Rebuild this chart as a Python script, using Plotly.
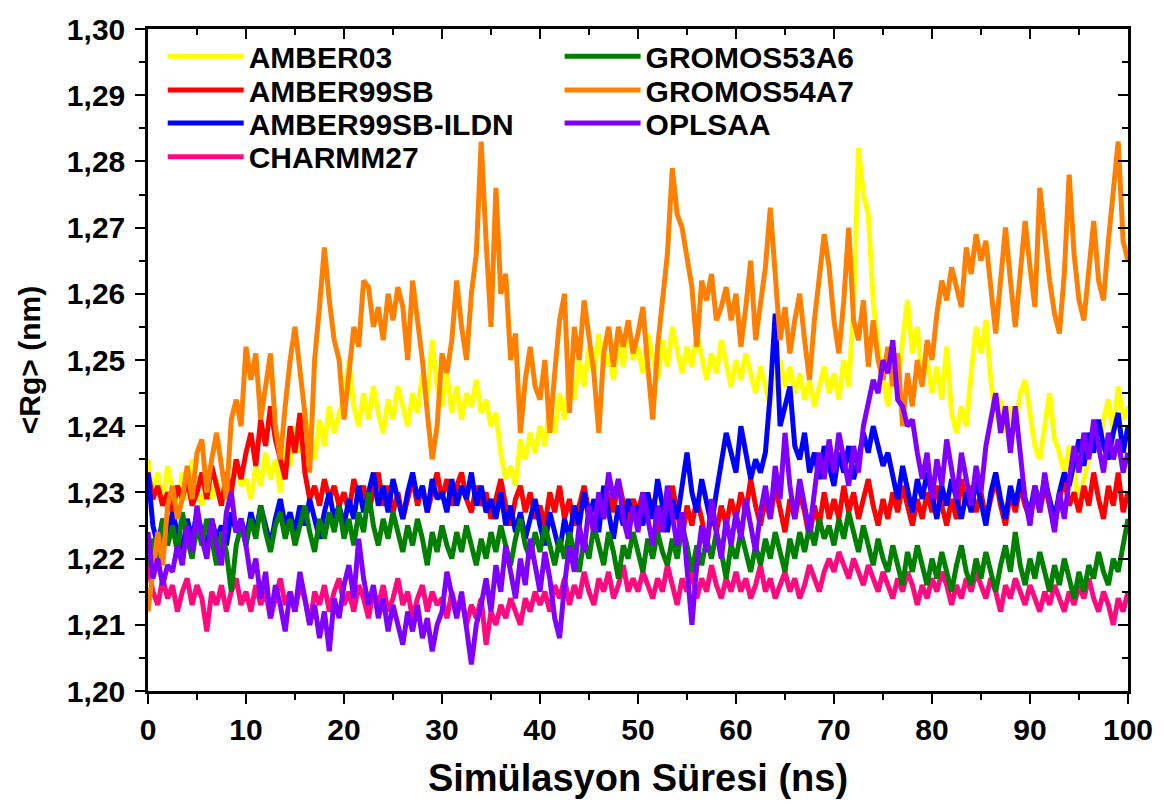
import plotly.graph_objects as go

time_ns = [i * 0.5 for i in range(201)]

amber03 = [
 1.235,1.229,1.233,1.228,1.234,1.230,1.227,1.233,1.229,1.235,1.230,1.228,1.234,1.229,1.232,1.228,1.233,1.230,1.235,1.231,
 1.232,1.229,1.234,1.231,1.236,1.232,1.235,1.230,1.237,1.234,1.240,1.236,1.242,1.238,1.235,1.241,1.237,1.243,1.239,1.242,
 1.244,1.250,1.243,1.240,1.245,1.241,1.246,1.242,1.239,1.244,1.241,1.246,1.243,1.240,1.245,1.242,1.248,1.244,1.253,1.246,
 1.243,1.248,1.242,1.246,1.241,1.245,1.243,1.247,1.242,1.244,1.240,1.242,1.236,1.232,1.234,1.231,1.238,1.235,1.239,1.236,
 1.240,1.237,1.243,1.239,1.245,1.241,1.247,1.244,1.250,1.246,1.252,1.248,1.254,1.249,1.251,1.247,1.253,1.249,1.255,1.250,
 1.252,1.248,1.254,1.250,1.247,1.253,1.249,1.255,1.251,1.248,1.252,1.249,1.254,1.250,1.247,1.251,1.248,1.253,1.249,1.246,
 1.250,1.247,1.251,1.248,1.245,1.249,1.246,1.243,1.247,1.250,1.246,1.249,1.245,1.248,1.244,1.247,1.243,1.246,1.249,1.245,
 1.248,1.244,1.250,1.246,1.258,1.282,1.275,1.272,1.259,1.252,1.247,1.243,1.249,1.246,1.253,1.259,1.251,1.255,1.247,1.250,
 1.245,1.249,1.244,1.252,1.242,1.239,1.243,1.240,1.248,1.255,1.251,1.256,1.247,1.241,1.244,1.239,1.243,1.240,1.245,1.247,
 1.242,1.237,1.235,1.240,1.245,1.238,1.236,1.233,1.237,1.234,1.227,1.232,1.235,1.238,1.236,1.241,1.244,1.239,1.246,1.241,
 1.243]

amber99sb = [
 1.233,1.229,1.231,1.228,1.230,1.227,1.231,1.229,1.232,1.228,1.230,1.233,1.229,1.234,1.231,1.228,1.233,1.230,1.235,1.232,
 1.236,1.239,1.234,1.241,1.237,1.243,1.238,1.235,1.232,1.240,1.236,1.242,1.233,1.229,1.231,1.228,1.232,1.229,1.231,1.228,
 1.230,1.227,1.232,1.229,1.231,1.227,1.230,1.233,1.228,1.231,1.227,1.230,1.226,1.229,1.232,1.228,1.231,1.227,1.230,1.233,
 1.229,1.232,1.228,1.231,1.233,1.229,1.227,1.231,1.228,1.230,1.226,1.229,1.232,1.228,1.225,1.229,1.231,1.227,1.230,1.226,
 1.228,1.225,1.230,1.227,1.231,1.226,1.229,1.225,1.228,1.231,1.227,1.224,1.229,1.226,1.230,1.227,1.232,1.228,1.225,1.229,
 1.227,1.230,1.226,1.229,1.224,1.228,1.225,1.231,1.227,1.223,1.228,1.225,1.229,1.226,1.222,1.227,1.224,1.228,1.225,1.229,
 1.226,1.230,1.227,1.232,1.228,1.225,1.229,1.226,1.231,1.227,1.224,1.229,1.226,1.230,1.227,1.223,1.228,1.225,1.230,1.226,
 1.229,1.226,1.231,1.227,1.230,1.226,1.229,1.232,1.228,1.225,1.229,1.226,1.230,1.227,1.231,1.228,1.225,1.229,1.226,1.230,
 1.227,1.231,1.228,1.225,1.229,1.226,1.232,1.228,1.231,1.227,1.230,1.226,1.229,1.232,1.228,1.225,1.230,1.227,1.231,1.228,
 1.226,1.230,1.227,1.231,1.228,1.225,1.229,1.232,1.228,1.230,1.227,1.231,1.228,1.233,1.229,1.226,1.231,1.228,1.233,1.227,
 1.230]

amber99sb_ildn = [
 1.233,1.225,1.222,1.226,1.223,1.227,1.224,1.221,1.226,1.223,1.227,1.224,1.222,1.226,1.223,1.225,1.222,1.227,1.224,1.226,
 1.223,1.227,1.224,1.228,1.225,1.222,1.226,1.229,1.225,1.227,1.224,1.228,1.225,1.229,1.226,1.223,1.227,1.230,1.226,1.228,
 1.225,1.229,1.226,1.231,1.227,1.230,1.233,1.228,1.231,1.227,1.232,1.229,1.226,1.230,1.233,1.229,1.231,1.227,1.232,1.229,
 1.230,1.227,1.232,1.228,1.231,1.229,1.233,1.228,1.231,1.227,1.229,1.226,1.230,1.225,1.228,1.224,1.227,1.223,1.226,1.229,
 1.225,1.222,1.227,1.224,1.221,1.226,1.223,1.228,1.225,1.230,1.226,1.229,1.224,1.231,1.227,1.223,1.228,1.225,1.229,1.226,
 1.228,1.225,1.230,1.226,1.232,1.228,1.224,1.229,1.226,1.231,1.236,1.230,1.227,1.232,1.228,1.225,1.230,1.234,1.239,1.236,
 1.233,1.240,1.236,1.232,1.235,1.233,1.236,1.245,1.257,1.240,1.243,1.246,1.237,1.235,1.239,1.233,1.236,1.232,1.237,1.234,
 1.231,1.236,1.233,1.237,1.232,1.235,1.239,1.236,1.240,1.237,1.234,1.236,1.232,1.229,1.234,1.230,1.227,1.232,1.229,1.233,
 1.229,1.226,1.231,1.228,1.232,1.229,1.226,1.230,1.227,1.232,1.228,1.225,1.230,1.233,1.229,1.226,1.231,1.228,1.232,1.229,
 1.227,1.231,1.228,1.232,1.229,1.226,1.230,1.233,1.231,1.235,1.238,1.234,1.239,1.236,1.241,1.237,1.235,1.239,1.242,1.236,
 1.240]

charmm27 = [
 1.219,1.215,1.213,1.217,1.214,1.216,1.212,1.215,1.217,1.213,1.216,1.214,1.209,1.215,1.213,1.216,1.212,1.215,1.217,1.213,
 1.215,1.212,1.216,1.213,1.215,1.211,1.214,1.217,1.213,1.215,1.212,1.216,1.214,1.210,1.215,1.213,1.216,1.212,1.215,1.217,
 1.213,1.215,1.212,1.216,1.214,1.211,1.215,1.213,1.216,1.212,1.214,1.217,1.213,1.215,1.211,1.214,1.216,1.212,1.215,1.213,
 1.214,1.211,1.215,1.212,1.214,1.210,1.213,1.211,1.214,1.207,1.212,1.210,1.213,1.211,1.214,1.212,1.210,1.214,1.212,1.215,
 1.213,1.215,1.212,1.216,1.214,1.217,1.213,1.216,1.214,1.218,1.215,1.213,1.217,1.215,1.218,1.214,1.216,1.219,1.215,1.217,
 1.215,1.218,1.216,1.214,1.217,1.215,1.219,1.216,1.213,1.217,1.215,1.218,1.214,1.217,1.215,1.219,1.216,1.214,1.217,1.215,
 1.218,1.215,1.217,1.214,1.216,1.219,1.215,1.217,1.214,1.216,1.218,1.215,1.217,1.214,1.216,1.219,1.217,1.215,1.218,1.220,
 1.218,1.221,1.219,1.217,1.220,1.218,1.216,1.219,1.217,1.215,1.218,1.216,1.214,1.217,1.215,1.218,1.216,1.213,1.216,1.214,
 1.217,1.215,1.218,1.216,1.213,1.216,1.214,1.217,1.215,1.218,1.216,1.214,1.217,1.215,1.212,1.216,1.214,1.217,1.215,1.213,
 1.216,1.214,1.212,1.215,1.213,1.216,1.214,1.212,1.215,1.213,1.216,1.214,1.217,1.214,1.212,1.215,1.213,1.210,1.214,1.212,
 1.215]

gromos53a6 = [
 1.219,1.223,1.220,1.226,1.222,1.225,1.221,1.227,1.223,1.220,1.225,1.222,1.226,1.223,1.219,1.224,1.221,1.215,1.222,1.225,
 1.222,1.226,1.223,1.228,1.224,1.221,1.225,1.227,1.223,1.226,1.222,1.225,1.228,1.224,1.221,1.226,1.223,1.227,1.224,1.228,
 1.223,1.226,1.222,1.227,1.224,1.230,1.225,1.222,1.226,1.223,1.227,1.224,1.221,1.225,1.222,1.226,1.223,1.219,1.224,1.221,
 1.225,1.222,1.220,1.224,1.221,1.225,1.222,1.219,1.223,1.220,1.224,1.221,1.225,1.222,1.219,1.223,1.226,1.222,1.220,1.224,
 1.221,1.225,1.222,1.219,1.223,1.220,1.224,1.221,1.218,1.223,1.220,1.225,1.222,1.219,1.224,1.221,1.217,1.222,1.220,1.224,
 1.221,1.218,1.223,1.220,1.224,1.221,1.219,1.223,1.220,1.225,1.222,1.218,1.222,1.219,1.223,1.220,1.224,1.221,1.217,1.222,
 1.220,1.224,1.221,1.218,1.222,1.219,1.223,1.220,1.224,1.221,1.218,1.223,1.220,1.224,1.221,1.225,1.222,1.226,1.223,1.225,
 1.222,1.226,1.223,1.227,1.224,1.221,1.225,1.222,1.219,1.223,1.220,1.218,1.222,1.219,1.216,1.221,1.218,1.222,1.219,1.216,
 1.220,1.217,1.221,1.218,1.215,1.219,1.222,1.218,1.216,1.220,1.217,1.221,1.218,1.215,1.219,1.222,1.218,1.224,1.219,1.216,
 1.220,1.217,1.221,1.218,1.215,1.219,1.216,1.220,1.217,1.214,1.218,1.215,1.219,1.217,1.221,1.218,1.216,1.220,1.218,1.222,
 1.226]

gromos54a7 = [
 1.212,1.218,1.224,1.219,1.228,1.231,1.226,1.229,1.234,1.229,1.236,1.238,1.230,1.235,1.239,1.234,1.229,1.241,1.244,1.240,
 1.252,1.247,1.251,1.241,1.246,1.251,1.240,1.235,1.243,1.250,1.255,1.249,1.242,1.233,1.250,1.258,1.267,1.259,1.253,1.250,
 1.241,1.248,1.255,1.252,1.262,1.261,1.255,1.258,1.253,1.260,1.256,1.261,1.258,1.250,1.262,1.256,1.250,1.242,1.235,1.240,
 1.251,1.248,1.253,1.262,1.255,1.250,1.260,1.266,1.283,1.268,1.255,1.276,1.260,1.263,1.250,1.254,1.239,1.247,1.252,1.246,
 1.244,1.250,1.239,1.248,1.256,1.260,1.242,1.255,1.250,1.259,1.253,1.248,1.239,1.251,1.255,1.249,1.255,1.252,1.256,1.251,
 1.254,1.258,1.249,1.241,1.252,1.260,1.266,1.279,1.272,1.270,1.265,1.261,1.252,1.262,1.259,1.263,1.256,1.258,1.261,1.256,
 1.260,1.252,1.258,1.265,1.253,1.258,1.264,1.273,1.262,1.253,1.258,1.251,1.256,1.260,1.253,1.247,1.256,1.262,1.269,1.264,
 1.256,1.251,1.259,1.270,1.256,1.253,1.259,1.249,1.256,1.250,1.247,1.252,1.246,1.251,1.240,1.248,1.243,1.250,1.246,1.253,
 1.250,1.257,1.262,1.259,1.264,1.261,1.258,1.267,1.263,1.269,1.265,1.268,1.260,1.254,1.262,1.270,1.262,1.255,1.263,1.271,
 1.264,1.258,1.276,1.268,1.262,1.257,1.254,1.263,1.278,1.266,1.259,1.256,1.263,1.271,1.262,1.259,1.268,1.275,1.283,1.268,
 1.265]

oplsaa = [
 1.224,1.217,1.220,1.216,1.219,1.218,1.222,1.219,1.225,1.221,1.228,1.223,1.220,1.226,1.222,1.219,1.227,1.230,1.224,1.226,
 1.222,1.217,1.220,1.214,1.218,1.211,1.216,1.213,1.209,1.215,1.212,1.218,1.214,1.210,1.213,1.208,1.212,1.206,1.214,1.211,
 1.216,1.219,1.214,1.223,1.217,1.213,1.216,1.211,1.214,1.209,1.213,1.210,1.207,1.212,1.209,1.213,1.208,1.211,1.206,1.210,
 1.212,1.218,1.214,1.211,1.215,1.209,1.204,1.210,1.213,1.217,1.212,1.219,1.215,1.222,1.218,1.214,1.220,1.216,1.223,1.219,
 1.215,1.221,1.217,1.211,1.208,1.216,1.222,1.218,1.225,1.221,1.228,1.224,1.230,1.226,1.233,1.229,1.232,1.226,1.223,1.228,
 1.224,1.230,1.226,1.222,1.228,1.224,1.231,1.226,1.222,1.227,1.218,1.210,1.219,1.225,1.221,1.229,1.224,1.220,1.226,1.222,
 1.227,1.223,1.229,1.225,1.221,1.227,1.231,1.226,1.234,1.229,1.239,1.231,1.226,1.232,1.228,1.224,1.230,1.236,1.232,1.238,
 1.233,1.239,1.235,1.231,1.237,1.233,1.240,1.244,1.247,1.245,1.250,1.248,1.253,1.244,1.243,1.240,1.241,1.236,1.232,1.236,
 1.229,1.235,1.231,1.238,1.233,1.229,1.236,1.232,1.228,1.234,1.230,1.237,1.241,1.245,1.239,1.243,1.236,1.243,1.236,1.229,
 1.225,1.231,1.227,1.233,1.228,1.224,1.230,1.226,1.232,1.237,1.233,1.239,1.235,1.241,1.237,1.233,1.239,1.235,1.238,1.233,
 1.236]

series_names = ["AMBER03", "AMBER99SB", "AMBER99SB-ILDN", "CHARMM27",
                "GROMOS53A6", "GROMOS54A7", "OPLSAA"]
series_values = [amber03, amber99sb, amber99sb_ildn, charmm27,
                 gromos53a6, gromos54a7, oplsaa]
series_colors = ["#FFFF00", "#FF0000", "#0000FF", "#FF0A7F",
                 "#008000", "#FF8000", "#8000FF"]

x_ticks = list(range(0, 101, 10))
y_ticks = [1.20, 1.21, 1.22, 1.23, 1.24, 1.25, 1.26, 1.27, 1.28, 1.29, 1.30]

FONT = "Liberation Sans, Arial, sans-serif"

# legend placement: two columns, four rows (paper coords)
legend_cols = [0.015, 0.015, 0.015, 0.015, 0.420, 0.420, 0.420]
legend_rows = [0.959, 0.908, 0.858, 0.807, 0.959, 0.908, 0.858]

fig = go.Figure()
legend_layout = {}
for i, (name, vals, col) in enumerate(zip(series_names, series_values, series_colors)):
    lg = "legend" if i == 0 else f"legend{i + 1}"
    fig.add_trace(go.Scatter(x=time_ns, y=vals, mode="lines", name=name,
                             line=dict(color=col, width=5), legend=lg))
    legend_layout[lg] = dict(x=legend_cols[i], y=legend_rows[i],
                             xanchor="left", yanchor="middle",
                             bgcolor="rgba(0,0,0,0)", itemwidth=76,
                             borderwidth=0,
                             font=dict(family=FONT, size=30, color="black",
                                       weight="bold"))

# helper trace for the mirrored top/right axes
fig.add_trace(go.Scatter(x=[None], y=[None], xaxis="x2", yaxis="y2",
                         showlegend=False, hoverinfo="skip"))

axis_common = dict(showline=True, linecolor="black", linewidth=2.5,
                   showgrid=False, zeroline=False)

fig.update_layout(
    width=1165, height=805,
    margin=dict(l=148, r=31, t=20, b=114),
    paper_bgcolor="white", plot_bgcolor="white",
    separators=",.",
    xaxis=dict(range=[0, 100], tickvals=x_ticks, ticks="outside", ticklen=10,
               tickwidth=2, tickcolor="black",
               minor=dict(dtick=5, tick0=0, ticks="outside", ticklen=6,
                          tickwidth=2, tickcolor="black"),
               tickfont=dict(family=FONT, size=30, color="black", weight="bold"),
               title=dict(text="Simülasyon Süresi (ns)", standoff=20,
                          font=dict(family=FONT, size=38, color="black", weight="bold")),
               **axis_common),
    yaxis=dict(range=[1.20, 1.30], tickvals=y_ticks, tickformat=".2f",
               ticks="outside", ticklen=10, tickwidth=2, tickcolor="black",
               ticklabelstandoff=4,
               minor=dict(dtick=0.005, tick0=1.2, ticks="outside", ticklen=6,
                          tickwidth=2, tickcolor="black"),
               tickfont=dict(family=FONT, size=30, color="black", weight="bold"),
               title=dict(text="&lt;Rg&gt; (nm)", standoff=18,
                          font=dict(family=FONT, size=30, color="black", weight="bold")),
               **axis_common),
    xaxis2=dict(range=[0, 100], overlaying="x", side="top", anchor="y2",
                tickvals=x_ticks, ticks="inside", ticklen=10, tickwidth=2,
                tickcolor="black", showticklabels=False,
                minor=dict(dtick=5, tick0=0, ticks="inside", ticklen=6,
                           tickwidth=2, tickcolor="black"),
                **axis_common),
    yaxis2=dict(range=[1.20, 1.30], overlaying="y", side="right", anchor="x2",
                tickvals=y_ticks, ticks="inside", ticklen=10, tickwidth=2,
                tickcolor="black", showticklabels=False,
                minor=dict(dtick=0.005, tick0=1.2, ticks="inside", ticklen=6,
                           tickwidth=2, tickcolor="black"),
                **axis_common),
    **legend_layout,
)

fig.write_html("out.html")
